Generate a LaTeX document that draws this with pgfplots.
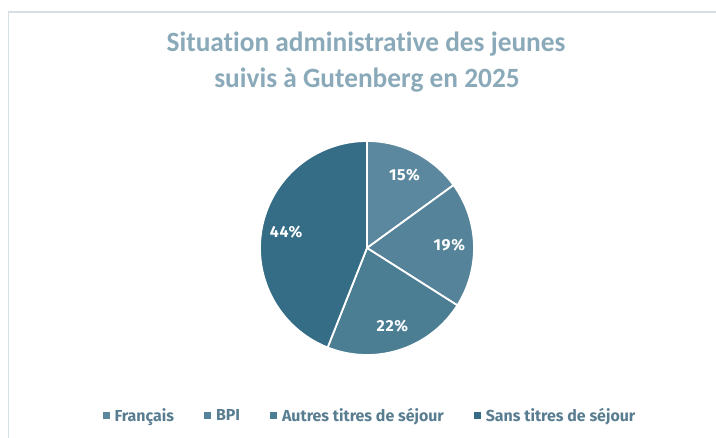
\documentclass[border=0pt]{standalone}
\usepackage{pgfplots}
\pgfplotsset{compat=1.18}
\usepackage{pgfplotstable}
\usepackage{fontspec}
\setmainfont{Fira Sans}
\newfontfamily\titlefont[FakeStretch=0.98, Ligatures=NoCommon]{Carlito}
\newfontfamily\lblfont[LetterSpace=4]{Fira Sans}
\definecolor{cA}{HTML}{5B889E}
\definecolor{cB}{HTML}{55839A}
\definecolor{cC}{HTML}{4B7D93}
\definecolor{cD}{HTML}{356C86}
\definecolor{framec}{HTML}{D5DFE4}
\definecolor{titlec}{HTML}{8AA9B9}
\definecolor{legc}{HTML}{587D91}
\pgfplotstableread[col sep=comma]{
name,value,color
Français,15,cA
BPI,19,cB
Autres titres de séjour,22,cC
Sans titres de séjour,44,cD
}\piedata
\begin{document}
\begin{tikzpicture}
\path[use as bounding box] (0bp,0bp) rectangle (716bp,438bp);
\draw[color=framec, line width=1.5bp] (8.5bp,0bp) -- (8.5bp,426bp) -- (716bp,426bp);
\node[anchor=base, text=titlec, inner sep=0pt, font=\titlefont\bfseries\fontsize{28}{32}\selectfont] at (366bp,386bp) {Situation administrative des jeunes};
\node[anchor=base, text=titlec, inner sep=0pt, font=\titlefont\bfseries\fontsize{28}{32}\selectfont] at (367bp,350bp) {suivis à Gutenberg en 2025};
\begin{axis}[
  at={(260bp,83bp)}, anchor=south west,
  scale only axis, width=214bp, height=214bp,
  xmin=-1, xmax=1, ymin=-1, ymax=1,
  hide axis, clip=false,
  legend columns=4,
  legend image code/.code={\path[#1] (0bp,-3.5bp) rectangle (7bp,3.5bp); \path (10bp,0bp);},
  legend style={at={(0.514,-0.285)}, anchor=center, draw=none, fill=none,
    font=\bfseries\fontsize{16}{19}\selectfont, text=legc,
    inner sep=0pt, /tikz/every even column/.append style={column sep=28bp}},
  legend cell align=left,
]
\xdef\cum{0}
\pgfplotsinvokeforeach{0,1,2,3}{%
  \pgfplotstablegetelem{#1}{value}\of\piedata \let\v\pgfplotsretval
  \pgfplotstablegetelem{#1}{color}\of\piedata \let\c\pgfplotsretval
  \pgfmathsetmacro\a{90-3.6*\cum}%
  \pgfmathsetmacro\b{90-3.6*(\cum+\v)}%
  \edef\temp{\noexpand\fill[fill=\c, draw=white, line width=1.8bp, line join=round] (axis cs:0,0) -- plot[domain=\a:\b, samples=90, variable=\noexpand\t] (axis cs:{cos(\noexpand\t)},{sin(\noexpand\t)}) -- cycle;}%
  \temp
  \pgfmathsetmacro\cumnew{\cum+\v}\xdef\cum{\cumnew}%
}
\xdef\cum{0}
\pgfplotsinvokeforeach{0,1,2,3}{%
  \pgfplotstablegetelem{#1}{value}\of\piedata \let\v\pgfplotsretval
  \pgfmathsetmacro\m{90-3.6*(\cum+\v/2)}%
  \edef\temp{\noexpand\node[text=white, font=\noexpand\lblfont\noexpand\bfseries\noexpand\fontsize{16}{19}\noexpand\selectfont] at (axis cs:{0.77*cos(\m)},{0.77*sin(\m)}) {\v\noexpand\%};}%
  \temp
  \pgfmathsetmacro\cumnew{\cum+\v}\xdef\cum{\cumnew}%
}
\addlegendimage{fill=cA, draw=none}\addlegendentry{Français}
\addlegendimage{fill=cB, draw=none}\addlegendentry{BPI}
\addlegendimage{fill=cC, draw=none}\addlegendentry{Autres titres de séjour}
\addlegendimage{fill=cD, draw=none}\addlegendentry{Sans titres de séjour}
\end{axis}
\end{tikzpicture}
\end{document}
